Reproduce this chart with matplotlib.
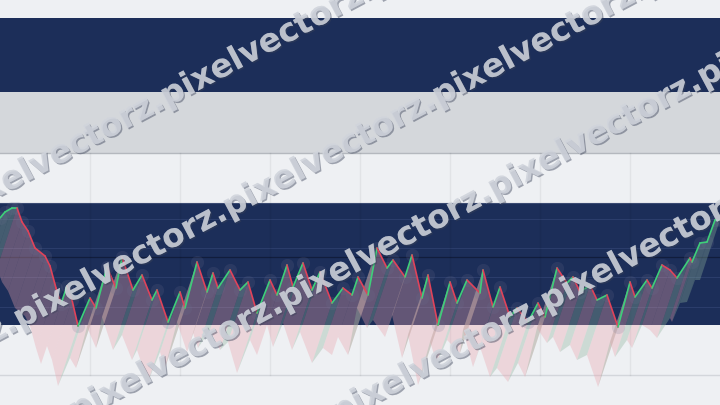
import math
import matplotlib
matplotlib.use('Agg')
import matplotlib.pyplot as plt
import matplotlib.patheffects as pe
from matplotlib.patches import Polygon

# ========= data =========================================
# time index and price level of every zig-zag vertex
t = [0, 5, 12, 17, 22, 28, 35, 45, 50, 56, 61, 67, 72, 78, 90, 96, 107, 116, 122,
     133, 142, 152, 157, 168, 180, 185, 197, 207, 213, 218, 230, 240, 248, 257,
     270, 277, 287, 293, 303, 312, 320, 332, 343, 352, 358, 368, 377, 387, 393,
     405, 412, 422, 428, 438, 450, 457, 467, 480, 483, 493, 500, 510, 517, 528,
     538, 545, 557, 567, 573, 580, 590, 597, 607, 618, 630, 635, 647, 652, 662,
     670, 677, 690, 692, 700, 707, 715, 720]
price = [187, 193, 197, 197, 183, 174, 157, 149, 139, 117, 101, 119, 105, 79, 107, 97, 138, 117, 148,
         115, 130, 105, 115, 83, 113, 97, 143, 113, 132, 117, 135, 115, 123, 92,
         125, 110, 140, 118, 142, 115, 133, 102, 117, 110, 128, 110, 157, 137, 145,
         128, 150, 107, 130, 80, 123, 102, 125, 112, 135, 98, 118, 88, 97, 83,
         102, 88, 137, 122, 128, 113, 120, 105, 110, 78, 123, 108, 125, 117, 140,
         135, 127, 147, 143, 162, 163, 185, 185]

grid_levels = [186, 157, 128, 98]
mark_level = 148
watermark = 'pixelvectorz.'
# =========================================================

BG = '#eef0f3'
NAVY = '#1c2e59'
GREY = '#d4d7db'
UP = '#3ecf7a'
DOWN = '#e0435a'


def main():
    fig = plt.figure(figsize=(7.2, 4.05), dpi=100, facecolor=BG)
    ax = fig.add_axes([0, 0, 1, 1])
    ax.set_facecolor(BG)
    ax.set_xlim(0, 720)
    ax.set_ylim(0, 405)
    ax.axis('off')

    # background panels
    ax.axhspan(313, 387, color=NAVY, lw=0, zorder=0)
    ax.axhspan(252, 313, color=GREY, lw=0, zorder=0)
    ax.axhline(252, color='#b4b8be', lw=1, zorder=1)
    ax.axhspan(80, 202, color=NAVY, lw=0, zorder=0)
    ax.axhline(202, color='#3a4a72', lw=0.8, zorder=1)
    ax.axhline(30, color='#d3d6db', lw=1, zorder=1)
    for g in grid_levels:
        ax.axhline(g, color='#2b3d6b', lw=0.8, zorder=1)
    ax.axhline(mark_level, color='#111d3c', lw=0.9, zorder=1)
    for gx in range(90, 720, 90):
        ax.plot([gx, gx], [30, 252], color='#000000', alpha=0.05, lw=1, zorder=1)

    # shaded extrusion under each segment
    dx, dy = -20, -60
    for i in range(len(t) - 1):
        x0, y0, x1, y1 = t[i], price[i], t[i + 1], price[i + 1]
        up = y1 >= y0
        col = '#8fb39c' if up else '#e9a3ad'
        poly = Polygon([(x0, y0), (x1, y1), (x1 + dx, y1 + dy), (x0 + dx, y0 + dy)],
                       closed=True, facecolor=col, edgecolor='none', alpha=0.35, zorder=2)
        ax.add_patch(poly)

    # halo at the vertices
    ax.scatter(t, price, s=90, color='#6b7090', alpha=0.18, lw=0, zorder=3)

    # the line itself, coloured by direction
    for i in range(len(t) - 1):
        col = UP if price[i + 1] >= price[i] else DOWN
        ax.plot(t[i:i + 2], price[i:i + 2], color=col, lw=1.2, zorder=4,
                solid_capstyle='round')

    # watermark, words end to end along four diagonal rows
    fsize = 23.5
    probe = ax.text(0, 0, watermark, fontsize=fsize, fontweight='bold', family='DejaVu Sans')
    fig.canvas.draw()
    w = probe.get_window_extent().width
    probe.remove()
    ang = 28
    step = w * math.cos(math.radians(ang))
    slope = math.tan(math.radians(ang))

    rows_c = [196, 340, 462, 603]
    first_p = [167, 20, 285, 547]
    shadow = [pe.withSimplePatchShadow(offset=(1, -1), shadow_rgbFace='#3a4258', alpha=0.45),
              pe.Normal()]
    for c, p in zip(rows_c, first_p):
        for k in range(-4, 5):
            x = p + k * step
            y = c - slope * x
            if x > 730 or x < -260 or y < -10 or y > 560:
                continue
            ax.text(x, 405 - y, watermark, rotation=ang, rotation_mode='anchor',
                    ha='left', va='baseline', fontsize=fsize, fontweight='bold',
                    family='DejaVu Sans', color='#d0d4dc', alpha=0.65, zorder=6,
                    path_effects=shadow)

    fig.savefig('out.png', dpi=100, facecolor=BG)


if __name__ == "__main__":
    main()
